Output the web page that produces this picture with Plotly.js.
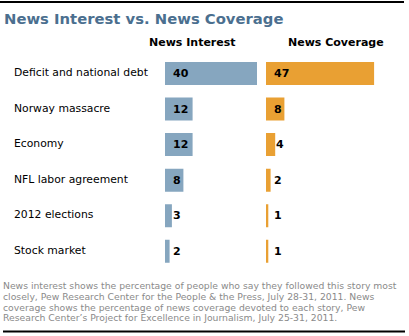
<!DOCTYPE html>
<html>
<head>
<meta charset="utf-8">
<script src="https://cdn.plot.ly/plotly-3.0.1.min.js"></script>
<style>html,body{margin:0;padding:0;background:#fff;}#chart{width:409px;height:336px;}</style>
</head>
<body>
<div id="chart"></div>
<script>
const categories = ["Deficit and national debt", "Norway massacre", "Economy", "NFL labor agreement", "2012 elections", "Stock market"];
const newsInterest = [40, 12, 12, 8, 3, 2];
const newsCoverage = [47, 8, 4, 2, 1, 1];
const seriesNames = ["News Interest", "News Coverage"];
const titleText = "News Interest vs. News Coverage";
const noteLines = [
  "News interest shows the percentage of people who say they followed this story most",
  "closely, Pew Research Center for the People & the Press, July 28-31, 2011. News",
  "coverage shows the percentage of news coverage devoted to each story, Pew",
  "Research Center\u2019s Project for Excellence in Journalism, July 25-31, 2011."
];

const W = 409, H = 336;
const BLUE = "#86a6bf", ORANGE = "#e9a033";
const F = "DejaVu Sans, Verdana, sans-serif";
const PXU = 2.3; // pixels per unit (same for both columns)
const x1Start = 165, x2Start = 266;
const x1Max = 44, x2Max = 50;
const dom1 = [x1Start / W, (x1Start + x1Max * PXU) / W];
const dom2 = [x2Start / W, (x2Start + x2Max * PXU) / W];
const yTop = 55.7, yBot = 269.1;

const traces = [
  {type: "bar", orientation: "h", y: categories, x: newsInterest, name: seriesNames[0],
   marker: {color: BLUE}, xaxis: "x", yaxis: "y", hoverinfo: "none"},
  {type: "bar", orientation: "h", y: categories, x: newsCoverage, name: seriesNames[1],
   marker: {color: ORANGE}, xaxis: "x2", yaxis: "y", hoverinfo: "none"}
];

const ann = [];
categories.forEach((c, i) => {
  ann.push({xref: "paper", yref: "y", x: 12 / W, y: c, xanchor: "left", yanchor: "middle",
    yshift: 1, text: c, showarrow: false, font: {family: F, size: 10.8, color: "#000"}});
});
function valLabels(vals, axis) {
  vals.forEach((v, i) => {
    // inside near the bar start when the bar is wide enough, otherwise just past its end
    const xv = (v * PXU >= 16) ? 8 / PXU : Math.max(8 / PXU, v + 1 / PXU);
    ann.push({xref: axis, yref: "y", x: xv, y: categories[i], xanchor: "left", yanchor: "middle",
      xshift: -2, yshift: 0, text: "<b>" + v + "</b>", showarrow: false,
      font: {family: F, size: 11, color: "#000"}});
  });
}
valLabels(newsInterest, "x");
valLabels(newsCoverage, "x2");
ann.push({xref: "paper", yref: "paper", x: 192.5 / W, y: 1 - 42 / H, xanchor: "center", yanchor: "middle",
  text: "<b>" + seriesNames[0] + "</b>", showarrow: false, font: {family: F, size: 11, color: "#000"}});
ann.push({xref: "paper", yref: "paper", x: 336 / W, y: 1 - 42 / H, xanchor: "center", yanchor: "middle",
  text: "<b>" + seriesNames[1] + "</b>", showarrow: false, font: {family: F, size: 11, color: "#000"}});
const noteY = [285.7, 296.5, 307.2, 317.9];
noteLines.forEach((t, i) => {
  ann.push({xref: "paper", yref: "paper", x: 1 / W, y: 1 - noteY[i] / H, xanchor: "left", yanchor: "middle",
    text: t, showarrow: false, font: {family: F, size: 9.25, color: "#8a8a8a"}});
});

const layout = {
  width: W, height: H,
  margin: {l: 0, r: 0, t: 0, b: 0},
  paper_bgcolor: "#fff", plot_bgcolor: "#fff",
  showlegend: false,
  bargap: 0.353,
  title: {text: "<b>" + titleText + "</b>", x: 4 / W, xanchor: "left", y: 1 - 19 / H, yanchor: "middle",
    font: {family: F, size: 14.8, color: "#4b6f8f"}},
  xaxis: {domain: dom1, range: [0, x1Max], visible: false, fixedrange: true},
  xaxis2: {domain: dom2, range: [0, x2Max], visible: false, fixedrange: true},
  yaxis: {domain: [1 - yBot / H, 1 - yTop / H], autorange: "reversed", visible: false, type: "category", fixedrange: true},
  annotations: ann,
  shapes: [
    {type: "line", xref: "paper", yref: "paper", x0: 0, x1: 404 / W, y0: 1 - 2 / H, y1: 1 - 2 / H, line: {color: "#000", width: 2}},
    {type: "line", xref: "paper", yref: "paper", x0: 3 / W, x1: 405 / W, y0: 1 - 331.5 / H, y1: 1 - 331.5 / H, line: {color: "#000", width: 2}}
  ]
};

Plotly.newPlot("chart", traces, layout, {displayModeBar: false, staticPlot: true});
</script>
</body>
</html>
